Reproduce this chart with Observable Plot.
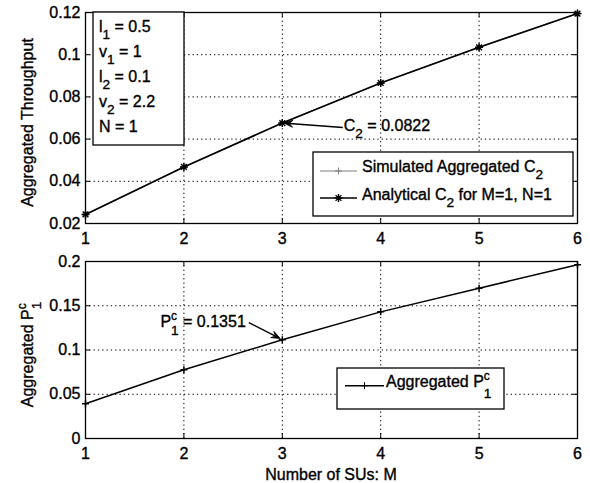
<!DOCTYPE html>
<html><head><meta charset="utf-8">
<script src="https://cdn.jsdelivr.net/npm/d3@7"></script>
<script src="https://cdn.jsdelivr.net/npm/@observablehq/plot@0.6"></script>
<style>
html,body{margin:0;padding:0;background:#fff;}
#chart{width:590px;height:483px;position:relative;overflow:hidden;background:#fff;}
#chart svg{display:block;}
#chart svg text{stroke:black;stroke-width:0.35px;}
</style></head><body><div id="chart"></div>
<script>
// ---- data ----
const M = [1, 2, 3, 4, 5, 6];
const simulatedC2 = [0.0243, 0.0468, 0.0676, 0.0866, 0.1035, 0.1195];
const analyticalC2 = [0.0243, 0.0468, 0.0676, 0.0866, 0.1035, 0.1195];
const aggregatedP1c = [0.0392, 0.0776, 0.1115, 0.1431, 0.1698, 0.1963];
const xTicks = [1, 2, 3, 4, 5, 6];
const yTicksTop = [0.02, 0.04, 0.06, 0.08, 0.1, 0.12];
const yTickLabelsTop = ["0.02", "0.04", "0.06", "0.08", "0.1", "0.12"];
const yTicksBottom = [0, 0.05, 0.1, 0.15, 0.2];
const yTickLabelsBottom = ["0", "0.05", "0.1", "0.15", "0.2"];
const paramLines = [["l", "1", " = 0.5"], ["v", "1", " = 1"], ["l", "2", " = 0.1"], ["v", "2", " = 2.2"], ["N", "", " = 1"]];
const annotC2 = {x: 3, value: 0.0676, text: "0.0822"};
const annotP1c = {x: 3, value: 0.1115, text: "0.1351"};

const FONT = '"Liberation Sans", Arial, Helvetica, sans-serif';
const FS = 16;
const GREY = "#7f7f7f";

const plusSym = {draw(ctx, size) { const r = Math.sqrt(size / Math.PI); ctx.moveTo(-r, 0); ctx.lineTo(r, 0); ctx.moveTo(0, -r); ctx.lineTo(0, r); }};
const starSym = {draw(ctx, size) { const r = Math.sqrt(size / Math.PI), d = r * 0.72;
  ctx.moveTo(-r, 0); ctx.lineTo(r, 0); ctx.moveTo(0, -r); ctx.lineTo(0, r);
  ctx.moveTo(-d, -d); ctx.lineTo(d, d); ctx.moveTo(-d, d); ctx.lineTo(d, -d); }};

const topData = M.map((m, i) => ({m, sim: simulatedC2[i], ana: analyticalC2[i]}));
const botData = M.map((m, i) => ({m, p: aggregatedP1c[i]}));

function frameMarks(yTicks, yLabels, innerH, innerW) {
  const fmt = d => yLabels[yTicks.indexOf(d)];
  return [
    Plot.gridX({ticks: xTicks, stroke: "black", strokeOpacity: 1, strokeWidth: 1, strokeDasharray: "1.3,3"}),
    Plot.gridY({ticks: yTicks, stroke: "black", strokeOpacity: 1, strokeWidth: 1, strokeDasharray: "1.3,3"}),
    Plot.ruleX(xTicks, {x: d => d, insetTop: innerH - 5, stroke: "black"}),
    Plot.ruleX(xTicks, {x: d => d, insetBottom: innerH - 5, stroke: "black"}),
    Plot.ruleY(yTicks, {y: d => d, insetRight: innerW - 5, stroke: "black"}),
    Plot.ruleY(yTicks, {y: d => d, insetLeft: innerW - 5, stroke: "black"}),
    Plot.axisX({ticks: xTicks, tickSize: 0, tickPadding: 9, label: null, tickFormat: d => String(d)}),
    Plot.axisY({ticks: yTicks, tickSize: 0, tickPadding: 5, label: null, tickFormat: fmt})
  ];
}

const W = 590, mL = 85, mR = 13;
const topH = 250, topMT = 12, topMB = 27;
const botH = 233, botMT = 11, botMB = 45;

const topPlot = Plot.plot({
  width: W, height: topH, marginTop: topMT, marginBottom: topMB, marginLeft: mL, marginRight: mR,
  style: {fontFamily: FONT, fontSize: FS + "px", color: "black", background: "white"},
  x: {domain: [1, 6]}, y: {domain: [0.02, 0.12]},
  marks: [
    ...frameMarks(yTicksTop, yTickLabelsTop, topH - topMT - topMB, W - mL - mR),
    Plot.line(topData, {x: "m", y: "sim", stroke: GREY, strokeWidth: 1.2}),
    Plot.dot(topData, {x: "m", y: "sim", symbol: plusSym, r: 3.5, stroke: GREY, fill: "none"}),
    Plot.line(topData, {x: "m", y: "ana", stroke: "black", strokeWidth: 1.7}),
    Plot.dot(topData, {x: "m", y: "ana", symbol: starSym, r: 4, stroke: "black", fill: "none", strokeWidth: 1.4}),
    Plot.frame({stroke: "black", strokeWidth: 1.3})
  ]
});

const botPlot = Plot.plot({
  width: W, height: botH, marginTop: botMT, marginBottom: botMB, marginLeft: mL, marginRight: mR,
  style: {fontFamily: FONT, fontSize: FS + "px", color: "black", background: "white"},
  x: {domain: [1, 6]}, y: {domain: [0, 0.2]},
  marks: [
    ...frameMarks(yTicksBottom, yTickLabelsBottom, botH - botMT - botMB, W - mL - mR),
    Plot.line(botData, {x: "m", y: "p", stroke: "black", strokeWidth: 1.5}),
    Plot.dot(botData, {x: "m", y: "p", symbol: plusSym, r: 3.5, stroke: "black", fill: "none"}),
    Plot.frame({stroke: "black", strokeWidth: 1.3})
  ]
});

const chart = document.getElementById("chart");
chart.appendChild(topPlot);
chart.appendChild(botPlot);

// ---- rich text helper (sub/superscripts) ----
function rich(svg, x, y, parts, {anchor = "start", rotate = 0, size = FS} = {}) {
  const g = d3.select(svg).append("g").attr("transform", `translate(${x},${y}) rotate(${rotate})`);
  const t = g.append("text").attr("text-anchor", anchor).attr("font-family", FONT)
    .attr("font-size", size).attr("fill", "black");
  let cur = 0;
  for (const p of parts) {
    if (p.k === "n") {
      t.append("tspan").attr("dy", 0 - cur).text(p.t); cur = 0;
    } else if (p.k === "sub") {
      t.append("tspan").attr("dy", 7 - cur).attr("font-size", size * 0.85).text(p.t); cur = 7;
    } else if (p.k === "supsub") {
      const s = t.append("tspan").attr("dy", -7 - cur).attr("font-size", size * 0.75).text(p.sup); cur = -7;
      const w = s.node().getComputedTextLength();
      t.append("tspan").attr("dx", -w).attr("dy", (p.subShift || 8) - cur).attr("font-size", size * 0.85).text(p.sub);
      cur = p.subShift || 8;
    }
  }
  return g;
}

function box(svg, x, y, w, h) {
  d3.select(svg).append("rect").attr("x", x).attr("y", y).attr("width", w).attr("height", h)
    .attr("fill", "white").attr("stroke", "black").attr("stroke-width", 1.3);
}
function markerPath(sym, r) { const p = d3.path(); sym.draw(p, Math.PI * r * r); return p.toString(); }
function arrow(svg, x1, y1, x2, y2) {
  const s = d3.select(svg);
  const dx = x2 - x1, dy = y2 - y1, L = Math.hypot(dx, dy), ux = dx / L, uy = dy / L, nx = -uy, ny = ux;
  const hl = 9, hw = 3.5;
  s.append("line").attr("x1", x1).attr("y1", y1).attr("x2", x2 - ux * hl * 0.6).attr("y2", y2 - uy * hl * 0.6)
    .attr("stroke", "black").attr("stroke-width", 1.4);
  const pts = [[x2, y2], [x2 - ux * hl + nx * hw, y2 - uy * hl + ny * hw], [x2 - ux * hl * 0.6, y2 - uy * hl * 0.6], [x2 - ux * hl - nx * hw, y2 - uy * hl - ny * hw]];
  s.append("polygon").attr("points", pts.map(p => p.join(",")).join(" ")).attr("fill", "black").attr("stroke", "black").attr("stroke-width", 0.8);
}

// ---- top chart decorations ----
{
  const sx = topPlot.scale("x"), sy = topPlot.scale("y");
  const [r0, r1] = sy.range; // bottom, top
  rich(topPlot, mL - 52, (r0 + r1) / 2 + 5, [{k: "n", t: "Aggregated Throughput"}], {anchor: "middle", rotate: -90});
  box(topPlot, mL + 8, r1, 91, 133);
  paramLines.forEach((ln, i) => {
    const parts = [{k: "n", t: ln[0]}];
    if (ln[1]) parts.push({k: "sub", t: ln[1]});
    parts.push({k: "n", t: ln[2]});
    rich(topPlot, mL + 14, r1 + 20 + i * 25, parts);
  });
  const px = sx.apply(annotC2.x), py = sy.apply(annotC2.value);
  arrow(topPlot, px + 61, py + 5, px + 2, py + 0.5);
  rich(topPlot, px + 62, py + 8, [{k: "n", t: "C"}, {k: "sub", t: "2"}, {k: "n", t: " = " + annotC2.text}]);
  const lx = 313, ly = 152;
  box(topPlot, lx, ly, 260, 64);
  const s = d3.select(topPlot);
  s.append("line").attr("x1", lx + 7).attr("x2", lx + 44).attr("y1", ly + 19).attr("y2", ly + 19).attr("stroke", GREY).attr("stroke-width", 1.2);
  s.append("path").attr("d", markerPath(plusSym, 3.5)).attr("transform", `translate(${lx + 25.5},${ly + 19})`).attr("stroke", GREY).attr("fill", "none");
  rich(topPlot, lx + 49, ly + 20, [{k: "n", t: "Simulated Aggregated C"}, {k: "sub", t: "2"}]);
  s.append("line").attr("x1", lx + 7).attr("x2", lx + 44).attr("y1", ly + 46).attr("y2", ly + 46).attr("stroke", "black").attr("stroke-width", 1.7);
  s.append("path").attr("d", markerPath(starSym, 4)).attr("transform", `translate(${lx + 25.5},${ly + 46})`).attr("stroke", "black").attr("stroke-width", 1.4).attr("fill", "none");
  rich(topPlot, lx + 49, ly + 48, [{k: "n", t: "Analytical C"}, {k: "sub", t: "2"}, {k: "n", t: " for M=1, N=1"}]);
}

// ---- bottom chart decorations ----
{
  const sx = botPlot.scale("x"), sy = botPlot.scale("y");
  const [r0, r1] = sy.range;
  const [c0, c1] = sx.range;
  rich(botPlot, mL - 52, (r0 + r1) / 2 + 5, [{k: "n", t: "Aggregated P"}, {k: "supsub", sup: "c", sub: "1", subShift: 8}], {anchor: "middle", rotate: -90});
  rich(botPlot, (c0 + c1) / 2, r0 + 42, [{k: "n", t: "Number of SUs: M"}], {anchor: "middle"});
  const px = sx.apply(annotP1c.x), py = sy.apply(annotP1c.value);
  arrow(botPlot, px - 33, py - 16.6, px - 1.5, py - 0.8);
  rich(botPlot, px - 36, py - 12, [{k: "n", t: "P"}, {k: "supsub", sup: "c", sub: "1", subShift: 8}, {k: "n", t: " = " + annotP1c.text}], {anchor: "end"});
  const lx = 337, ly = 368 - topH;
  box(botPlot, lx, ly, 167, 41);
  const s = d3.select(botPlot);
  s.append("line").attr("x1", lx + 8).attr("x2", lx + 47).attr("y1", ly + 17.7).attr("y2", ly + 17.7).attr("stroke", "black").attr("stroke-width", 1.5);
  s.append("path").attr("d", markerPath(plusSym, 3.5)).attr("transform", `translate(${lx + 27.5},${ly + 17.7})`).attr("stroke", "black").attr("fill", "none");
  rich(botPlot, lx + 49, ly + 19, [{k: "n", t: "Aggregated P"}, {k: "supsub", sup: "c", sub: "1", subShift: 11}]);
}
</script></body></html>
